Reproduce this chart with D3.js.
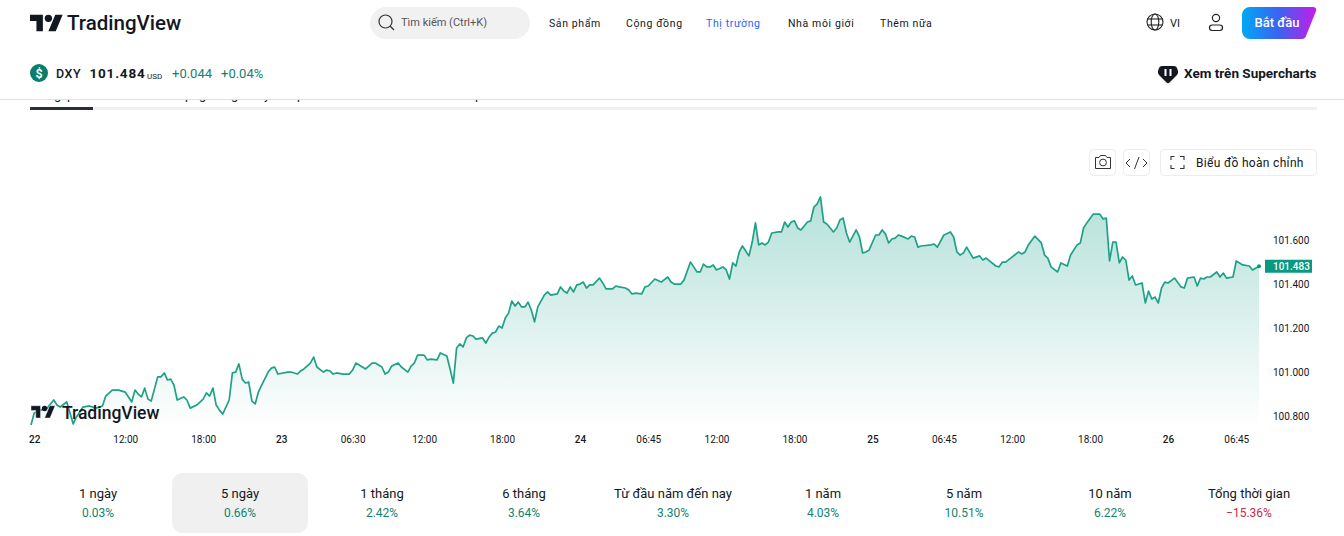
<!DOCTYPE html>
<html lang="vi">
<head>
<meta charset="utf-8">
<title>DXY</title>
<script src="https://cdn.jsdelivr.net/npm/d3@7"></script>
<style>
    html, body { margin: 0; background: #fff; overflow: hidden; }
    svg { display: block; }
    text { font-family: Roboto, "Noto Sans", sans-serif; fill: #131722; }
    .axis text { font-size: 10px; fill: #131722; }
    .axis path, .axis line { display: none; }
</style>
</head>
<body>
<script>
// 15 minute bars, counted from the left edge of the chart
const bars = [0,1,3,5,7,8,9,11,12,13,14,16,18,20,22,23,25,27,29,30,31,32,33,34,35,36,37,39,40,41,42,43,44,45,47,48,49,51,53,54,55,56,57,58,59,61,62,63,64,65,66,67,68,69,70,71,73,74,75,76,79,80,82,83,84,86,87,88,90,91,92,93,94,96,98,99,100,102,103,105,106,108,109,110,111,113,114,116,117,118,119,121,122,123,125,126,128,129,130,131,132,133,134,135,136,137,139,140,141,142,143,144,145,146,147,148,149,150,151,152,153,154,155,156,158,159,160,162,163,164,165,166,167,168,169,170,171,172,173,175,176,177,179,180,181,183,184,185,186,188,189,190,192,194,196,197,198,200,201,203,204,205,206,207,208,209,210,211,213,214,215,216,217,218,219,221,222,223,224,225,226,227,228,230,231,232,233,234,235,236,237,239,240,241,242,243,244,245,247,248,249,250,251,252,254,255,256,257,258,260,261,262,263,264,265,266,267,268,270,271,272,273,274,277,278,279,281,283,284,285,286,287,288,290,292,293,294,297,298,299,300,304,305,306,307,309,311,312,313,314,316,317,319,320,322,323,324,325,327,329,330,331,332,333,334,335,336,337,338,339,340,342,343,344,345,346,347,348,349,350,352,354,355,356,358,359,360,361,362,363,365,366,367,368,370,371,373,375,376,378];
const closes = [100.761,100.816,100.829,100.838,100.875,100.852,100.843,100.866,100.816,100.766,100.798,100.843,100.848,100.838,100.848,100.893,100.920,100.920,100.911,100.889,100.866,100.920,100.902,100.889,100.929,100.879,100.870,100.980,100.980,100.998,100.966,100.970,100.943,100.875,100.889,100.875,100.838,100.852,100.879,100.907,100.893,100.929,100.852,100.829,100.811,100.875,100.998,101.002,101.039,100.970,100.952,100.957,100.870,100.857,100.911,100.943,101.002,101.020,101.025,100.993,101.002,101.002,100.993,101.007,101.016,101.043,101.070,101.025,101.002,101.011,101.007,100.993,100.998,100.993,100.993,101.011,101.043,101.025,101.016,101.043,101.043,101.025,100.993,101.002,101.029,101.043,101.025,101.002,101.029,101.043,101.079,101.079,101.057,101.061,101.057,101.089,101.075,101.016,100.952,101.111,101.130,101.116,101.157,101.170,101.166,101.152,101.157,101.134,101.161,101.179,101.184,101.211,101.202,101.248,101.270,101.325,101.302,101.320,101.298,101.298,101.320,101.284,101.230,101.298,101.352,101.366,101.352,101.357,101.389,101.370,101.361,101.389,101.366,101.398,101.402,101.411,101.384,101.398,101.398,101.429,101.407,101.380,101.380,101.393,101.389,101.384,101.375,101.357,101.361,101.357,101.389,101.393,101.425,101.411,101.434,101.411,101.402,101.402,101.420,101.502,101.480,101.457,101.457,101.493,101.480,101.480,101.489,101.466,101.480,101.466,101.425,101.498,101.484,101.548,101.575,101.530,101.593,101.680,101.580,101.589,101.580,101.593,101.634,101.639,101.639,101.684,101.661,101.684,101.689,101.657,101.648,101.684,101.689,101.752,101.766,101.798,101.684,101.675,101.639,101.657,101.693,101.702,101.634,101.593,101.648,101.616,101.543,101.548,101.557,101.625,101.625,101.648,101.630,101.589,101.607,101.611,101.625,101.620,101.607,101.620,101.616,101.570,101.575,101.580,101.584,101.570,101.625,101.639,101.616,101.548,101.534,101.543,101.570,101.520,101.530,101.511,101.520,101.484,101.480,101.502,101.502,101.548,101.539,101.548,101.580,101.620,101.589,101.534,101.520,101.480,101.457,101.498,101.484,101.534,101.580,101.589,101.657,101.680,101.720,101.720,101.698,101.702,101.507,101.593,101.593,101.498,101.525,101.511,101.420,101.439,101.398,101.407,101.316,101.370,101.334,101.343,101.316,101.384,101.411,101.407,101.429,101.389,101.384,101.429,101.434,101.393,101.429,101.425,101.434,101.434,101.457,101.434,101.452,101.429,101.434,101.507,101.489,101.484,101.466,101.483];

const timeTickBars = [1,29,53,77,99,121,145,169,190,211,235,259,281,302,326,350,371];
const timeTickLabels = ["22","12:00","18:00","23","06:30","12:00","18:00","24","06:45","12:00","18:00","25","06:45","12:00","18:00","26","06:45"];
const dayLabels = ["22","23","24","25","26"];
const priceTicks = [100.8,101.0,101.2,101.4,101.6];
const lastPrice = 101.483;

const periods = ["1 ngày","5 ngày","1 tháng","6 tháng","Từ đầu năm đến nay","1 năm","5 năm","10 năm","Tổng thời gian"];
const returns = ["0.03%","0.66%","2.42%","3.64%","3.30%","4.03%","10.51%","6.22%","−15.36%"];
const periodCentres = [98,240,382,524,673,823,964,1110,1249];
const navLabels = ["Sản phẩm","Cộng đồng","Thị trường","Nhà môi giới","Thêm nữa"];
const navLefts = [549,626,706,788,880];
// tab labels scrolled under the sticky header, only the descenders still show
const tabLetters = ["g","p","p","g","g","y","p","p"];
const tabLefts = [54,67,185,199,231,264,297,475];

const GREEN = "#089981";
const TEXT_GREEN = "#0f8371";
const LOGO = "M14 22H7V11H0V4h14v18zM28 22h-8l7.5-18h8L28 22z";

const svg = d3.select("body").append("svg").attr("width", 1344).attr("height", 536);
const defs = svg.append("defs");

const areaGrad = defs.append("linearGradient").attr("id", "areaGrad")
    .attr("gradientUnits", "userSpaceOnUse").attr("x1", 0).attr("x2", 0).attr("y1", 197).attr("y2", 428);
areaGrad.append("stop").attr("offset", 0).attr("stop-color", GREEN).attr("stop-opacity", 0.3);
areaGrad.append("stop").attr("offset", 1).attr("stop-color", GREEN).attr("stop-opacity", 0);

const btnGrad = defs.append("linearGradient").attr("id", "btnGrad");
btnGrad.append("stop").attr("offset", 0).attr("stop-color", "#00a8f5");
btnGrad.append("stop").attr("offset", 0.5).attr("stop-color", "#3c62f0");
btnGrad.append("stop").attr("offset", 1).attr("stop-color", "#c61be8");

defs.append("clipPath").attr("id", "belowHeader")
    .append("rect").attr("x", 0).attr("y", 100).attr("width", 1344).attr("height", 7);

// chart
const x = d3.scaleLinear().domain([0, 378]).range([31, 1259]);
const y = d3.scaleLinear().domain([100.8, 101.6]).range([416.5, 240.5]);

const points = bars.map((b, i) => [b, closes[i]]);

svg.append("path").datum(points)
    .attr("fill", "url(#areaGrad)")
    .attr("d", d3.area().x(d => x(d[0])).y0(428).y1(d => y(d[1])));

svg.append("path").datum(points)
    .attr("fill", "none")
    .attr("stroke", "#1fa187")
    .attr("stroke-width", 1.7)
    .attr("stroke-linejoin", "round")
    .attr("d", d3.line().x(d => x(d[0])).y(d => y(d[1])));

svg.append("circle")
    .attr("cx", x(378)).attr("cy", y(lastPrice)).attr("r", 2).attr("fill", GREEN);

const xAxis = svg.append("g").attr("class", "axis")
    .attr("transform", "translate(0,430)")
    .call(d3.axisBottom(x).tickValues(timeTickBars).tickSize(0).tickPadding(6)
        .tickFormat((d, i) => timeTickLabels[i]));
xAxis.selectAll("text")
    .attr("font-weight", (d, i) => dayLabels.includes(timeTickLabels[i]) ? 500 : 400);

svg.append("g").attr("class", "axis")
    .attr("transform", "translate(1273,-0.5)")
    .call(d3.axisRight(y).tickValues(priceTicks).tickSize(0).tickPadding(0).tickFormat(d3.format(".3f")));

svg.append("rect").attr("x", 1265).attr("y", y(lastPrice) - 6.5).attr("width", 47).attr("height", 13).attr("fill", GREEN);
svg.append("text").attr("x", 1273).attr("y", y(lastPrice)).attr("dy", "0.34em")
    .style("fill", "#fff").style("font-size", "10px").attr("font-weight", 500)
    .text(d3.format(".3f")(lastPrice));

// watermark
svg.append("path").attr("d", LOGO).attr("fill", "#131722").attr("stroke", "#fff").attr("stroke-width", 0.6)
    .attr("transform", "translate(31,403) scale(0.68)");
svg.append("circle").attr("cx", 31 + 20 * 0.68).attr("cy", 403 + 8 * 0.68).attr("r", 4 * 0.68).attr("fill", "#131722");
svg.append("text").attr("x", 62).attr("y", 418.5).style("font-size", "17.5px").attr("font-weight", 500).text("TradingView");

// header
svg.append("path").attr("d", LOGO).attr("fill", "#131722").attr("transform", "translate(30,11) scale(0.92)");
svg.append("circle").attr("cx", 30 + 20 * 0.92).attr("cy", 11 + 8 * 0.92).attr("r", 4 * 0.92).attr("fill", "#131722");
svg.append("text").attr("x", 67).attr("y", 30).style("font-size", "20.5px").attr("font-weight", 500).text("TradingView");

svg.append("rect").attr("x", 370).attr("y", 7).attr("width", 160).attr("height", 32).attr("rx", 16).attr("fill", "#f1f1f1");
svg.append("circle").attr("cx", 385.5).attr("cy", 21.5).attr("r", 6.5).attr("fill", "none").attr("stroke", "#333").attr("stroke-width", 1.2);
svg.append("line").attr("x1", 390).attr("y1", 26).attr("x2", 394).attr("y2", 30).attr("stroke", "#333").attr("stroke-width", 1.2);
svg.append("text").attr("x", 401).attr("y", 26).style("font-size", "11px").style("fill", "#555").text("Tìm kiếm (Ctrl+K)");

svg.selectAll(".nav").data(navLabels).join("text").attr("class", "nav")
    .attr("x", (d, i) => navLefts[i]).attr("y", 27)
    .style("font-size", "10.5px").style("letter-spacing", "0.62px")
    .style("fill", d => d === "Thị trường" ? "#2962ff" : "#131722")
    .text(d => d);

const globe = svg.append("g").attr("fill", "none").attr("stroke", "#222").attr("stroke-width", 1.1);
globe.append("circle").attr("cx", 1155).attr("cy", 22).attr("r", 8);
globe.append("ellipse").attr("cx", 1155).attr("cy", 22).attr("rx", 3.8).attr("ry", 8);
globe.append("line").attr("x1", 1147.5).attr("x2", 1162.5).attr("y1", 19).attr("y2", 19);
globe.append("line").attr("x1", 1147.5).attr("x2", 1162.5).attr("y1", 25).attr("y2", 25);
svg.append("text").attr("x", 1170).attr("y", 26.5).style("font-size", "11px").text("VI");

const user = svg.append("g").attr("fill", "none").attr("stroke", "#222").attr("stroke-width", 1.2);
user.append("circle").attr("cx", 1216).attr("cy", 18).attr("r", 3.6);
user.append("rect").attr("x", 1209.5).attr("y", 25).attr("width", 13).attr("height", 5.5).attr("rx", 2.7);

svg.append("path").attr("d", "M1250 7H1313Q1317 7 1316 11L1306 36Q1305 39 1302 39H1250a8 8 0 0 1-8-8V15a8 8 0 0 1 8-8z").attr("fill", "url(#btnGrad)");
svg.append("text").attr("x", 1277).attr("y", 27).attr("text-anchor", "middle")
    .style("fill", "#fff").style("font-size", "13px").attr("font-weight", 500).text("Bắt đầu");

// symbol row
svg.append("circle").attr("cx", 39).attr("cy", 73).attr("r", 9).attr("fill", "#0b7d6b");
svg.append("text").attr("x", 39).attr("y", 77.5).attr("text-anchor", "middle")
    .style("fill", "#fff").style("font-size", "12.5px").attr("font-weight", 700).text("$");
svg.append("text").attr("x", 56).attr("y", 78).style("font-size", "12.5px").attr("font-weight", 500).style("letter-spacing", "0.5px").text("DXY");
svg.append("text").attr("x", 89.5).attr("y", 78).style("font-size", "13.5px").attr("font-weight", 700).style("letter-spacing", "0.8px").text("101.484");
svg.append("text").attr("x", 147).attr("y", 79).style("font-size", "8px").text("USD");
svg.append("text").attr("x", 172).attr("y", 77.5).style("font-size", "13px").style("fill", TEXT_GREEN).text("+0.044");
svg.append("text").attr("x", 221).attr("y", 77.5).style("font-size", "13px").style("fill", TEXT_GREEN).text("+0.04%");

svg.append("path").attr("d", "M1162 66H1174Q1176 66 1177 68L1178 71Q1178.5 73 1177 75L1169.5 82.5Q1168 84 1166.5 82.5L1159 75Q1157.5 73 1158 71L1159 68Q1160 66 1162 66Z").attr("fill", "#131722");
svg.append("rect").attr("x", 1164.5).attr("y", 69).attr("width", 2).attr("height", 7).attr("fill", "#fff");
svg.append("rect").attr("x", 1169.5).attr("y", 69).attr("width", 2).attr("height", 7).attr("fill", "#fff");
svg.append("text").attr("x", 1184).attr("y", 78).style("font-size", "13.5px").attr("font-weight", 700).text("Xem trên Supercharts");

svg.append("line").attr("x1", 0).attr("x2", 1344).attr("y1", 99.5).attr("y2", 99.5).attr("stroke", "#e0e0e0");
svg.append("g").attr("clip-path", "url(#belowHeader)")
    .selectAll("text").data(tabLetters).join("text")
    .attr("x", (d, i) => tabLefts[i]).attr("y", 99)
    .style("font-size", "13px").text(d => d);
svg.append("rect").attr("x", 30).attr("y", 107).attr("width", 1287).attr("height", 3).attr("fill", "#f0f0f0");
svg.append("rect").attr("x", 30).attr("y", 107).attr("width", 63).attr("height", 3).attr("fill", "#2a2e39");

// chart buttons
const btn = (bx, bw) => svg.append("rect").attr("x", bx + 0.5).attr("y", 149.5).attr("width", bw).attr("height", 26).attr("rx", 4)
    .attr("fill", "#fff").attr("stroke", "#ececec");
btn(1089, 26); btn(1123, 26); btn(1160, 156);

const cam = svg.append("g").attr("fill", "none").attr("stroke", "#333").attr("stroke-width", 1);
cam.append("path").attr("d", "M1095.5 157.5H1099L1100.5 155.5H1105.5L1107 157.5H1110.5V168.5H1095.5Z");
cam.append("circle").attr("cx", 1103).attr("cy", 162.5).attr("r", 3.4);
svg.append("path").attr("d", "M1130 159L1126 163L1130 167M1143 159L1147 163L1143 167M1139 157L1134.5 169")
    .attr("fill", "none").attr("stroke", "#333").attr("stroke-width", 1);
svg.append("path").attr("d", "M1171 160V156.5H1174.5M1180 156.5H1184V160M1184 165V168.5H1180M1174.5 168.5H1171V165")
    .attr("fill", "none").attr("stroke", "#333").attr("stroke-width", 1.1);
svg.append("text").attr("x", 1196).attr("y", 167).style("font-size", "12px").style("letter-spacing", "0.32px").text("Biểu đồ hoàn chỉnh");

// period returns
svg.append("rect").attr("x", 172).attr("y", 473).attr("width", 136).attr("height", 60).attr("rx", 10).attr("fill", "#f0f0f0");

svg.selectAll(".period").data(periods).join("text").attr("class", "period")
    .attr("x", (d, i) => periodCentres[i]).attr("y", 498).attr("text-anchor", "middle")
    .style("font-size", "13px").text(d => d);

svg.selectAll(".ret").data(returns).join("text").attr("class", "ret")
    .attr("x", (d, i) => periodCentres[i]).attr("y", 517).attr("text-anchor", "middle")
    .style("font-size", "12px")
    .style("fill", d => d.startsWith("−") ? "#c22d45" : TEXT_GREEN)
    .text(d => d);
</script>
</body>
</html>
